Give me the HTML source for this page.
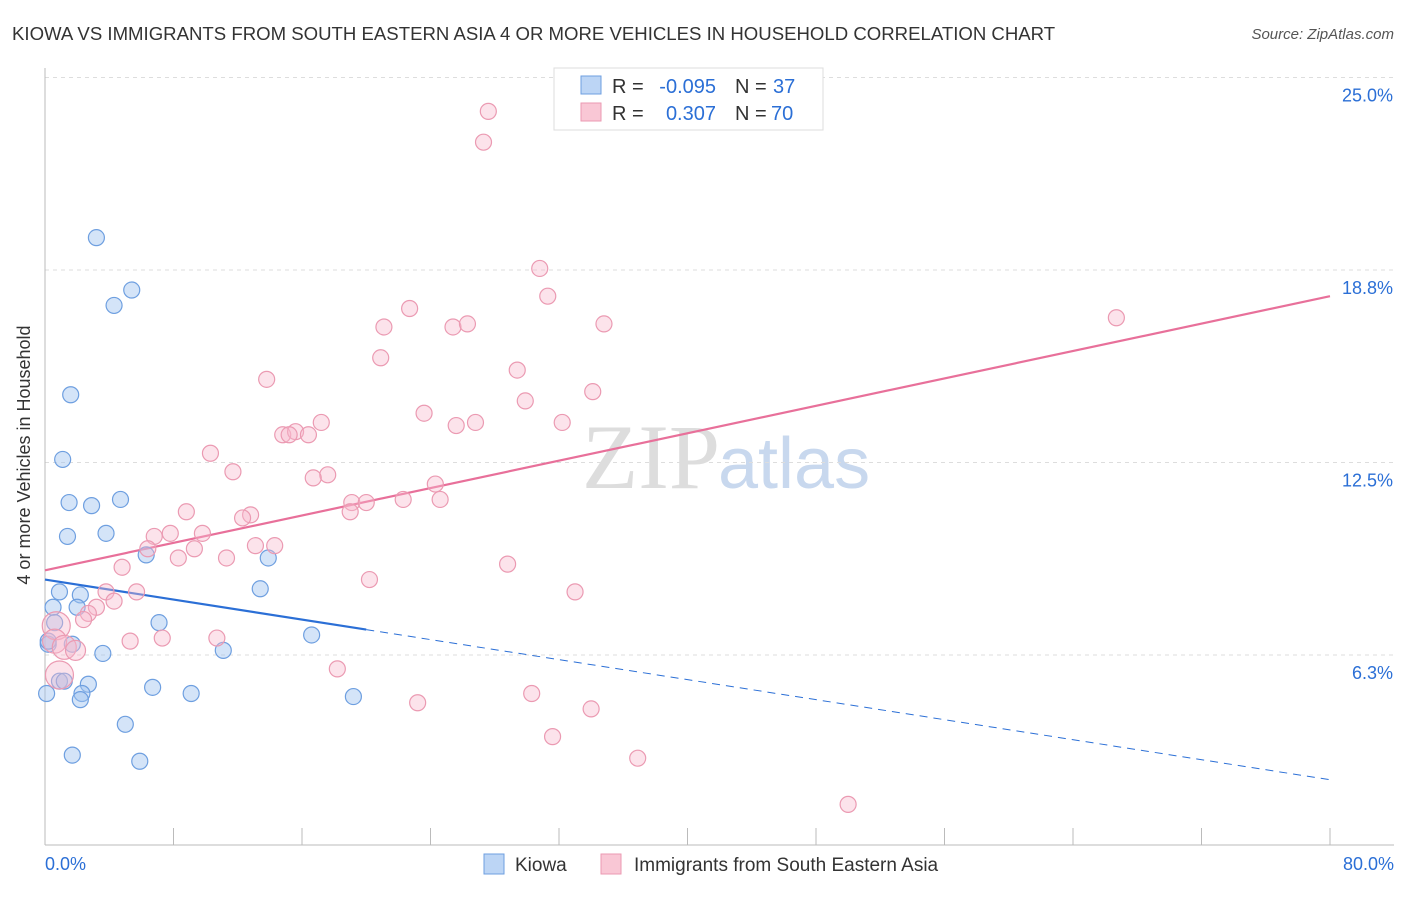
<!DOCTYPE html>
<html><head><meta charset="utf-8"><style>
body{margin:0;background:#fff;font-family:"Liberation Sans",sans-serif;}
</style></head><body>
<svg id="chart" width="1406" height="892" xmlns="http://www.w3.org/2000/svg">
<text x="12" y="40" font-size="18.6" fill="#333">KIOWA VS IMMIGRANTS FROM SOUTH EASTERN ASIA 4 OR MORE VEHICLES IN HOUSEHOLD CORRELATION CHART</text>
<text x="1394" y="39" font-size="15" fill="#555" font-style="italic" text-anchor="end">Source: ZipAtlas.com</text>
<text x="720" y="488" font-size="92" fill="#ddd" text-anchor="end" font-family="Liberation Serif">ZIP</text>
<text x="718" y="488" font-size="72" fill="#c8d8ee">atlas</text>
<g id="grid"></g><g id="axes"></g><g id="trend"></g><g id="pts"></g>
<text x="30" y="455" font-size="18" fill="#333" transform="rotate(-90 30 455)" text-anchor="middle">4 or more Vehicles in Household</text>
<g>
<rect x="554" y="68" width="269" height="62" fill="#fff" stroke="#ddd"/>
<rect x="581" y="76" width="20" height="18" fill="#bcd5f5" stroke="#6e9fe0"/>
<rect x="581" y="103" width="20" height="18" fill="#f9c7d5" stroke="#eb9ab2"/>
<text x="612" y="93" font-size="20" fill="#333">R =</text>
<text x="716" y="93" font-size="20" fill="#2b6fd6" text-anchor="end">-0.095</text>
<text x="735" y="93" font-size="20" fill="#333">N =</text>
<text x="773" y="93" font-size="20" fill="#2b6fd6">37</text>
<text x="612" y="120" font-size="20" fill="#333">R =</text>
<text x="716" y="120" font-size="20" fill="#2b6fd6" text-anchor="end">0.307</text>
<text x="735" y="120" font-size="20" fill="#333">N =</text>
<text x="771" y="120" font-size="20" fill="#2b6fd6">70</text>
</g>
<g>
<rect x="484" y="854" width="20" height="20" fill="#bcd5f5" stroke="#6e9fe0"/>
<text x="515" y="871" font-size="19" fill="#333">Kiowa</text>
<rect x="601" y="854" width="20" height="20" fill="#f9c7d5" stroke="#eb9ab2"/>
<text x="634" y="871" font-size="19" fill="#333">Immigrants from South Eastern Asia</text>
</g>
</svg>
<script>
const yTicks=[6.25,12.5,18.75,25];
const yTickLabels=["6.3%","12.5%","18.8%","25.0%"];
const xTickLabels=["0.0%","80.0%"];
const kiowaX=[3.2,5.4,4.3,1.6,1.1,1.5,2.9,4.7,1.4,3.8,6.3,13.9,0.9,2.2,0.5,2.0,13.4,0.6,7.1,1.7,0.2,16.6,11.1,3.6,2.7,0.9,1.2,6.7,9.1,2.3,2.2,0.1,19.2,5.0,1.7,5.9,0.2];
const kiowaY=[19.8,18.1,17.6,14.7,12.6,11.2,11.1,11.3,10.1,10.2,9.5,9.4,8.3,8.2,7.8,7.8,8.4,7.3,7.3,6.6,6.6,6.9,6.4,6.3,5.3,5.4,5.4,5.2,5.0,5.0,4.8,5.0,4.9,4.0,3.0,2.8,6.7];
const seaX=[27.6,27.3,30.8,31.3,22.7,21.1,25.4,26.3,34.8,66.7,20.9,29.4,13.8,34.1,29.9,23.6,32.2,17.2,26.8,25.6,14.8,15.6,16.4,15.2,10.3,11.7,17.6,16.7,24.3,8.8,19.1,20.0,22.3,24.6,19.0,12.8,12.3,7.8,6.8,9.8,6.4,9.3,13.1,14.3,8.3,11.3,4.8,28.8,20.2,33.0,5.7,3.8,4.3,3.2,2.7,2.4,5.3,7.3,10.7,0.7,0.6,1.2,1.9,0.9,18.2,30.3,23.2,34.0,31.6,36.9,50.0];
const seaY=[23.9,22.9,18.8,17.9,17.5,16.9,16.9,17.0,17.0,17.2,15.9,15.5,15.2,14.8,14.5,14.1,13.8,13.8,13.8,13.7,13.4,13.5,13.4,13.4,12.8,12.2,12.1,12.0,11.8,10.9,11.2,11.2,11.3,11.3,10.9,10.8,10.7,10.2,10.1,10.2,9.7,9.7,9.8,9.8,9.4,9.4,9.1,9.2,8.7,8.3,8.3,8.3,8.0,7.8,7.6,7.4,6.7,6.8,6.8,7.2,6.7,6.5,6.4,5.6,5.8,5.0,4.7,4.5,3.6,2.9,1.4];
const seaR=[8,8,8,8,8,8,8,8,8,8,8,8,8,8,8,8,8,8,8,8,8,8,8,8,8,8,8,8,8,8,8,8,8,8,8,8,8,8,8,8,8,8,8,8,8,8,8,8,8,8,8,8,8,8,8,8,8,8,8,14,12,12,10,14,8,8,8,8,8,8,8];
const X0=45,X1=1330,Y0=847.5,PY=30.8;
const sx=v=>X0+(v/80)*(X1-X0), sy=v=>Y0-v*PY;
const NS="http://www.w3.org/2000/svg";
function mk(p,t,a){const e=document.createElementNS(NS,t);for(const k in a)e.setAttribute(k,a[k]);p.appendChild(e);return e;}
const grid=document.getElementById('grid'),axes=document.getElementById('axes');
yTicks.forEach((t,i)=>{
 const l=mk(grid,'line',{x1:45,x2:1394,y1:sy(t),y2:sy(t),stroke:'#ddd','stroke-dasharray':'4,4'});
 
 
 const tx=mk(axes,'text',{x:1393,y:sy(t)+24,'font-size':18,fill:'#2b6fd6','text-anchor':'end'});tx.textContent=yTickLabels[i];
 
 
});
const ax=mk(axes,'line',{x1:45,x2:45,y1:68,y2:845,stroke:'#bbb'});


const bx=mk(axes,'line',{x1:45,x2:1394,y1:845,y2:845,stroke:'#bbb'});


for(let i=0;i<=10;i++){const x=X0+i*(X1-X0)/10;const t=mk(axes,'line',{x1:x,x2:x,y1:828,y2:845,stroke:'#bbb'});
 
 }
[[0,'start',45],[1,'end',1394]].forEach(([i,a,x])=>{const t=mk(axes,'text',{x:x,y:870,'font-size':18,fill:'#2b6fd6','text-anchor':a});t.textContent=xTickLabels[i];
 
 });
const pts=document.getElementById('pts');
kiowaX.forEach((v,i)=>{const c=mk(pts,'circle',{cx:sx(v),cy:sy(kiowaY[i]),r:8,fill:'rgba(160,195,240,0.45)',stroke:'#6e9fe0','stroke-width':1.2});
 
 });
seaX.forEach((v,i)=>{const c=mk(pts,'circle',{cx:sx(v),cy:sy(seaY[i]),r:seaR[i],fill:'rgba(248,185,205,0.4)',stroke:'#eb9ab2','stroke-width':1.2});
 
 });
const tr=document.getElementById('trend');
const kiowaTrend=[8.7,2.2], seaTrend=[9.0,17.9];
let l=mk(tr,'line',{x1:sx(0),y1:sy(kiowaTrend[0]),x2:sx(20),y2:sy(kiowaTrend[0]+(kiowaTrend[1]-kiowaTrend[0])*20/80),stroke:'#2b6fd6','stroke-width':2.2});


l=mk(tr,'line',{x1:sx(20),y1:sy(kiowaTrend[0]+(kiowaTrend[1]-kiowaTrend[0])*20/80),x2:sx(80),y2:sy(kiowaTrend[1]),stroke:'#2b6fd6','stroke-width':1,'stroke-dasharray':'8,6'});


l=mk(tr,'line',{x1:sx(0),y1:sy(seaTrend[0]),x2:sx(80),y2:sy(seaTrend[1]),stroke:'#e8709a','stroke-width':2.2});


</script>
</body></html>
